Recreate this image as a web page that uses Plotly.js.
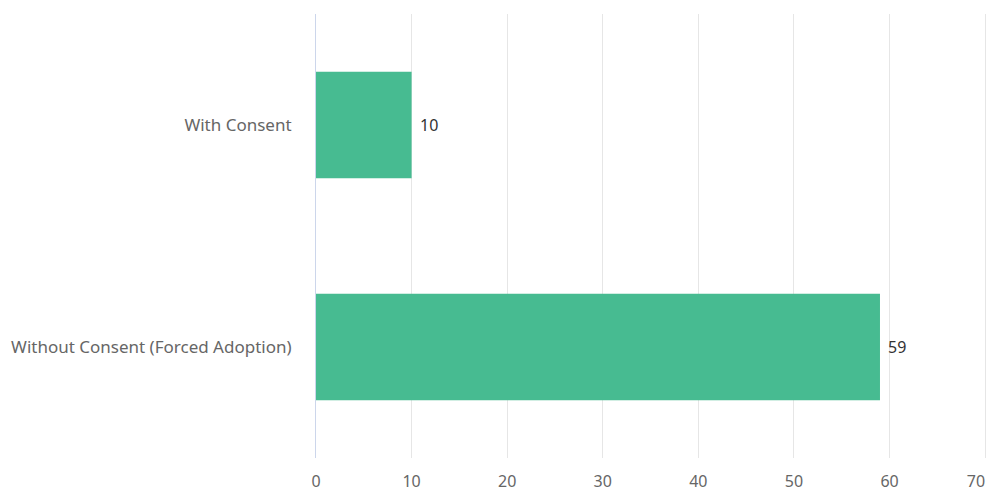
<!DOCTYPE html>
<html>
<head>
<meta charset="utf-8">
<script src="https://cdn.plot.ly/plotly-3.0.1.min.js"></script>
<style>html,body{margin:0;padding:0;background:#fff;}#chart{width:988px;height:493px;}</style>
</head>
<body>
<div id="chart"></div>
<script>
var categories = ["With Consent", "Without Consent (Forced Adoption)"];
var values = [10, 59];
var tickValues = [0, 10, 20, 30, 40, 50, 60, 70];

var trace = {
  type: 'bar',
  orientation: 'h',
  y: categories,
  x: values,
  marker: {color: '#47bb91'},
  width: 0.48,
  hoverinfo: 'x+y'
};

var annotations = values.map(function(v, i) {
  return {
    x: v, y: categories[i], xref: 'x', yref: 'y',
    text: String(v), showarrow: false, xanchor: 'left', xshift: 6,
    font: {family: 'Noto Sans, sans-serif', size: 16, color: '#333333'}
  };
});

// last label nudged left (like the reference) so it fits inside the page
var tickText = tickValues.map(function(v, i) {
  return i === tickValues.length - 1 ? String(v) + '\u2007\u2007' : String(v);
});

var layout = {
  width: 988, height: 493,
  margin: {l: 316, r: 0, t: 14, b: 35},
  paper_bgcolor: '#ffffff', plot_bgcolor: '#ffffff',
  showlegend: false,
  bargap: 0.52,
  xaxis: {
    range: [0, 70.3], tickvals: tickValues, ticktext: tickText,
    showgrid: true, gridcolor: '#e6e6e6', gridwidth: 1,
    zeroline: false, showline: false, ticks: '', ticklabelstandoff: 12,
    ticklabeloverflow: 'allow',
    tickfont: {family: 'Noto Sans, sans-serif', size: 16, color: '#666666'},
    fixedrange: true
  },
  yaxis: {
    autorange: 'reversed', type: 'category',
    showgrid: false, zeroline: false, showline: true, linecolor: '#ccd6eb', linewidth: 1,
    ticks: '', ticklabelstandoff: 20,
    tickfont: {family: 'Noto Sans, sans-serif', size: 17, color: '#666666'},
    fixedrange: true
  },
  annotations: annotations
};

Plotly.newPlot('chart', [trace], layout, {displayModeBar: false, staticPlot: true});
</script>
</body>
</html>
